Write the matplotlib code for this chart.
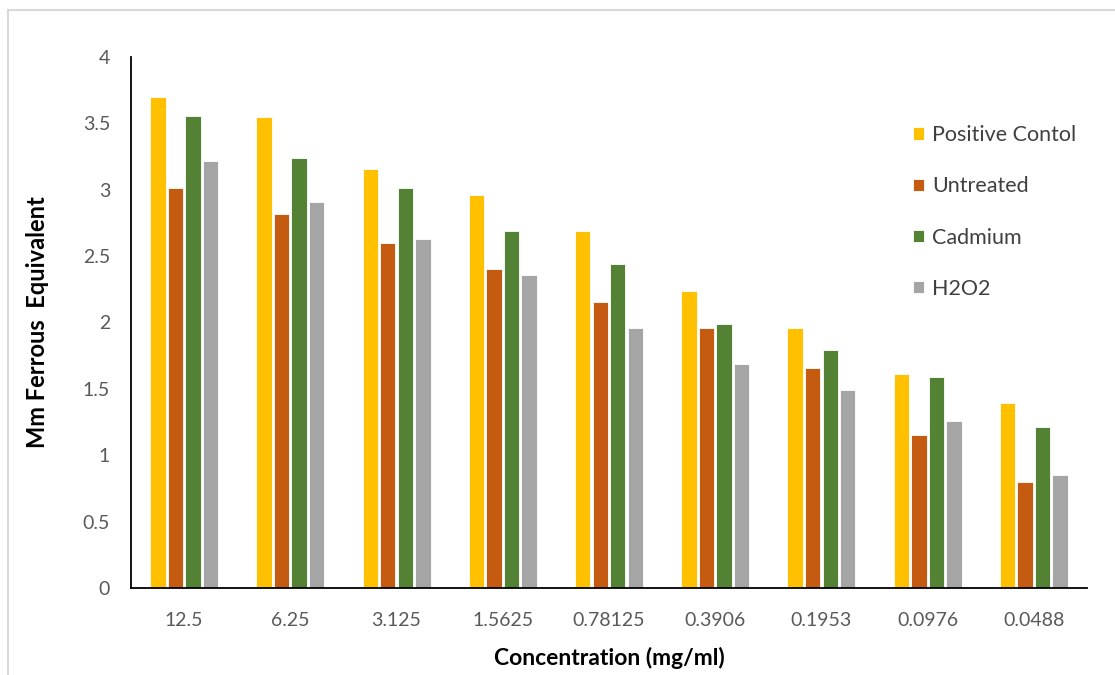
import matplotlib
matplotlib.use("Agg")
import numpy as np
from matplotlib import pyplot as plt
from matplotlib.patches import Rectangle

concentrations = ["12.5", "6.25", "3.125", "1.5625", "0.78125", "0.3906", "0.1953", "0.0976", "0.0488"]
positive_control = [3.70, 3.55, 3.155, 2.96, 2.69, 2.235, 1.955, 1.61, 1.39]
untreated = [3.01, 2.815, 2.60, 2.40, 2.155, 1.955, 1.655, 1.15, 0.795]
cadmium = [3.555, 3.24, 3.01, 2.69, 2.44, 1.99, 1.79, 1.59, 1.21]
h2o2 = [3.22, 2.905, 2.63, 2.355, 1.955, 1.69, 1.49, 1.26, 0.85]

series = [
    ("Positive Contol", positive_control, "#FFC000"),
    ("Untreated", untreated, "#C55A11"),
    ("Cadmium", cadmium, "#548235"),
    ("H2O2", h2o2, "#A5A5A5"),
]

plt.rcParams["font.family"] = ["Lato", "DejaVu Sans"]

fig = plt.figure(figsize=(11.15, 6.75), dpi=100)
ax = fig.add_axes([131 / 1115, 1 - 588 / 675, (1087 - 131) / 1115, (588 - 57) / 675])

# outer chart border
fig.patches.append(Rectangle((8 / 1115, -0.1), 1.2, 1 - 10 / 675 + 0.1,
                             transform=fig.transFigure, fill=False,
                             edgecolor="#D9D9D9", linewidth=1.5))

x = np.arange(len(concentrations))
slot = 0.165
width = 0.145
for i, (label, vals, color) in enumerate(series):
    ax.bar(x + (i - 1.5) * slot, vals, width, color=color, label=label,
           edgecolor="white", linewidth=0.6)

ax.set_xlim(-0.5, len(concentrations) - 0.5)
ax.set_ylim(0, 4)
ax.set_yticks(np.arange(0, 4.01, 0.5))
ax.set_yticklabels(["0", "0.5", "1", "1.5", "2", "2.5", "3", "3.5", "4"])
ax.set_xticks(x)
ax.set_xticklabels(concentrations)
ax.tick_params(axis="both", length=0, labelsize=14, labelcolor="#595959")
ax.tick_params(axis="x", pad=17)
ax.tick_params(axis="y", pad=15)

for side in ["top", "right"]:
    ax.spines[side].set_visible(False)
ax.spines["left"].set_color("black")
ax.spines["bottom"].set_color("black")
ax.spines["left"].set_linewidth(1.3)
ax.spines["bottom"].set_linewidth(1.3)

ax.set_ylabel("Mm Ferrous  Equivalent", fontsize=17, fontweight="bold", labelpad=24)
ax.set_xlabel("Concentration (mg/ml)", fontsize=16.5, fontweight="bold", labelpad=13)

leg = fig.legend(loc="center left", bbox_to_anchor=(902 / 1115, 1 - 212 / 675),
                 frameon=False, fontsize=15.5, handlelength=0.5, handleheight=0.5,
                 handletextpad=0.4, labelspacing=1.45, borderpad=0)
for t in leg.get_texts():
    t.set_color("#404040")

fig.savefig("out.png", dpi=100)
